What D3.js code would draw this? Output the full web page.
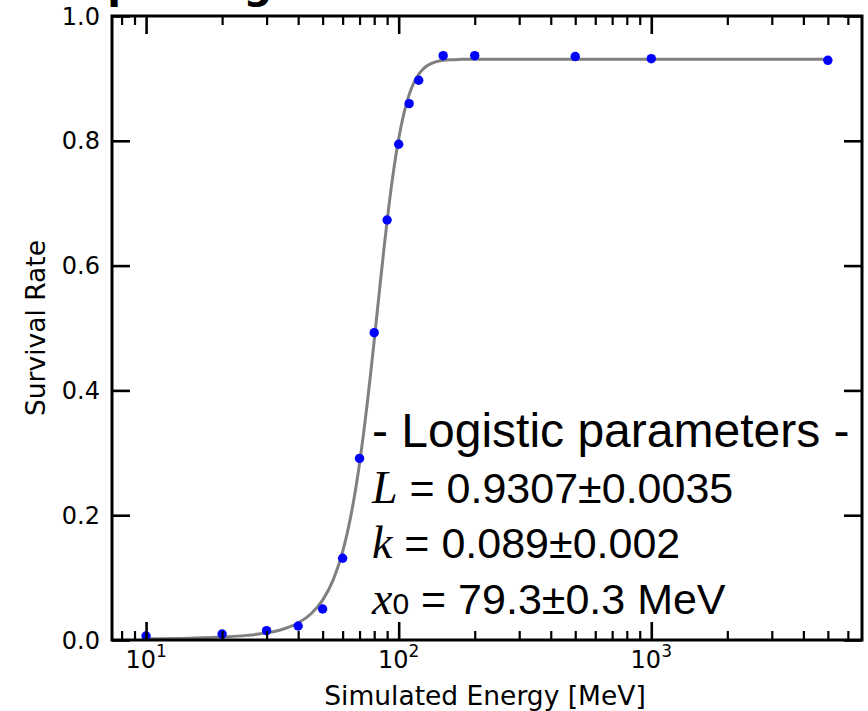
<!DOCTYPE html>
<html>
<head>
<meta charset="utf-8">
<script src="https://cdn.jsdelivr.net/npm/d3@7"></script>
<style>
  html, body { margin: 0; padding: 0; background: #fff; }
  svg { display: block; }
</style>
</head>
<body>
<svg id="chart" width="868" height="711"></svg>
<script>
// ---- data ----
const energies = [10, 20, 30, 40, 50, 60, 70, 80, 90, 100, 110, 120, 150, 200, 500, 1000, 5000];
const survival = [0.0064, 0.0096, 0.015, 0.0224, 0.0497, 0.131, 0.291, 0.4925, 0.673, 0.7944, 0.8595, 0.897, 0.9364, 0.9364, 0.935, 0.9316, 0.929];

const fitEnergy = [10, 15, 20, 25, 30, 35, 40, 45, 50, 55, 60, 62.5, 65, 67.5, 70, 72.5, 75, 77.5, 80, 82.5, 85, 87.5, 90, 95, 100, 105, 110, 115, 120, 125, 130, 140, 150, 160, 175, 200, 300, 500, 1000, 5000];
const fitRate = [0.0019, 0.0030, 0.0047, 0.0074, 0.0114, 0.0177, 0.0273, 0.0420, 0.0639, 0.0960, 0.1416, 0.1705, 0.2037, 0.2412, 0.2831, 0.3287, 0.3774, 0.4282, 0.4798, 0.5312, 0.5809, 0.6280, 0.6716, 0.7462, 0.8034, 0.8449, 0.8738, 0.8935, 0.9065, 0.9150, 0.9206, 0.9265, 0.9290, 0.9300, 0.9305, 0.9307, 0.9307, 0.9307, 0.9307, 0.9307];

const xMajorTicks = [10, 100, 1000];
const xMajorExp = ["1", "2", "3"];
const xMinorTicks = [8, 9, 20, 30, 40, 50, 60, 70, 80, 90, 200, 300, 400, 500, 600, 700, 800, 900, 2000, 3000, 4000, 5000, 6000];
const yTicks = [0.0, 0.2, 0.4, 0.6, 0.8, 1.0];

const titleText = "Simple Logistic Fit";
const xLabel = "Simulated Energy [MeV]";
const yLabel = "Survival Rate";
const boxHeader = "- Logistic parameters -";
const paramRows = [
  { sym: "L", sub: "", val: " = 0.9307±0.0035" },
  { sym: "k", sub: "", val: " = 0.089±0.002" },
  { sym: "x", sub: "0", val: " = 79.3±0.3 MeV" }
];

// ---- layout ----
const W = 868, H = 711;
const m = { left: 112, right: 6, top: 16, bottom: 71 };
const pw = W - m.left - m.right, ph = H - m.top - m.bottom;

const svg = d3.select("#chart");
const g = svg.append("g").attr("transform", `translate(${m.left},${m.top})`);

const x = d3.scaleLog().domain([7.33, 6826]).range([0, pw]);
const y = d3.scaleLinear().domain([0, 1]).range([ph, 0]);

const FONT = "'DejaVu Sans', sans-serif";
const majorLen = 18, minorLen = 9;

// title (mostly clipped above the frame)
svg.append("text")
  .attr("x", 23).attr("y", -2)
  .attr("font-family", FONT).attr("font-weight", "bold").attr("font-size", 40)
  .attr("fill", "#000")
  .text(titleText);

// fit curve
const line = d3.line()
  .x((d, i) => x(fitEnergy[i]))
  .y((d, i) => y(fitRate[i]))
  .curve(d3.curveMonotoneX);
g.append("path")
  .datum(fitEnergy)
  .attr("d", line)
  .attr("fill", "none")
  .attr("stroke", "#808080")
  .attr("stroke-width", 3);

// points
g.selectAll("circle.pt")
  .data(energies)
  .join("circle")
  .attr("class", "pt")
  .attr("cx", d => x(d))
  .attr("cy", (d, i) => y(survival[i]))
  .attr("r", 4.7)
  .attr("fill", "#0000ff");

// axes (ticks inward on all sides)
function styleAxis(sel) {
  sel.select(".domain").remove();
  sel.selectAll(".tick line").attr("stroke", "#000").attr("stroke-width", 2.6);
}
const xBottom = g.append("g").attr("transform", `translate(0,${ph})`)
  .call(d3.axisBottom(x).tickValues(xMajorTicks).tickSize(-majorLen).tickFormat(""));
styleAxis(xBottom);
const xBottomMinor = g.append("g").attr("transform", `translate(0,${ph})`)
  .call(d3.axisBottom(x).tickValues(xMinorTicks).tickSize(-minorLen).tickFormat(""));
styleAxis(xBottomMinor);
xBottomMinor.selectAll(".tick line").attr("stroke-width", 2.2);

const xTop = g.append("g")
  .call(d3.axisTop(x).tickValues(xMajorTicks).tickSize(-majorLen).tickFormat(""));
styleAxis(xTop);
const xTopMinor = g.append("g")
  .call(d3.axisTop(x).tickValues(xMinorTicks).tickSize(-minorLen).tickFormat(""));
styleAxis(xTopMinor);
xTopMinor.selectAll(".tick line").attr("stroke-width", 2.2);

const yLeft = g.append("g")
  .call(d3.axisLeft(y).tickValues(yTicks).tickSize(-majorLen).tickFormat(""));
styleAxis(yLeft);
const yRight = g.append("g").attr("transform", `translate(${pw},0)`)
  .call(d3.axisRight(y).tickValues(yTicks).tickSize(-majorLen).tickFormat(""));
styleAxis(yRight);

// frame
g.append("rect")
  .attr("x", 0).attr("y", 0).attr("width", pw).attr("height", ph)
  .attr("fill", "none").attr("stroke", "#000").attr("stroke-width", 3);

// y tick labels
g.selectAll("text.ylab")
  .data(yTicks)
  .join("text")
  .attr("class", "ylab")
  .attr("x", -12)
  .attr("y", d => y(d))
  .attr("dy", "0.36em")
  .attr("text-anchor", "end")
  .attr("font-family", FONT).attr("font-size", 24)
  .attr("fill", "#000")
  .text(d => d.toFixed(1));

// x tick labels with superscripts
const xl = g.selectAll("text.xlab")
  .data(xMajorTicks)
  .join("text")
  .attr("class", "xlab")
  .attr("x", d => x(d))
  .attr("y", ph + 28)
  .attr("text-anchor", "middle")
  .attr("font-family", FONT).attr("font-size", 24)
  .attr("fill", "#000");
xl.append("tspan").text("10");
xl.append("tspan").attr("dy", -11).attr("font-size", 17).text((d, i) => xMajorExp[i]);

// axis labels
svg.append("text")
  .attr("x", m.left + pw / 2 - 2).attr("y", 705)
  .attr("text-anchor", "middle")
  .attr("font-family", FONT).attr("font-size", 26.5)
  .attr("fill", "#000")
  .text(xLabel);
svg.append("text")
  .attr("transform", `translate(45,${m.top + ph / 2}) rotate(-90)`)
  .attr("text-anchor", "middle")
  .attr("font-family", FONT).attr("font-size", 26.5)
  .attr("fill", "#000")
  .text(yLabel);

// parameter box text
const TFONT = "'Liberation Sans', Arial, sans-serif";
svg.append("text")
  .attr("x", 372).attr("y", 447)
  .attr("font-family", TFONT).attr("font-size", 48)
  .attr("fill", "#000")
  .text(boxHeader);
const baselines = [503, 558, 614];
paramRows.forEach((r, i) => {
  const t = svg.append("text")
    .attr("x", 372).attr("y", baselines[i])
    .attr("font-family", TFONT).attr("font-size", 43)
    .attr("fill", "#000");
  t.append("tspan")
    .attr("font-family", "'Liberation Serif', serif")
    .attr("font-style", "italic")
    .attr("font-size", 46)
    .text(r.sym);
  if (r.sub) t.append("tspan").attr("font-size", 30).text(r.sub);
  t.append("tspan").text(r.val);
});
</script>
</body>
</html>
